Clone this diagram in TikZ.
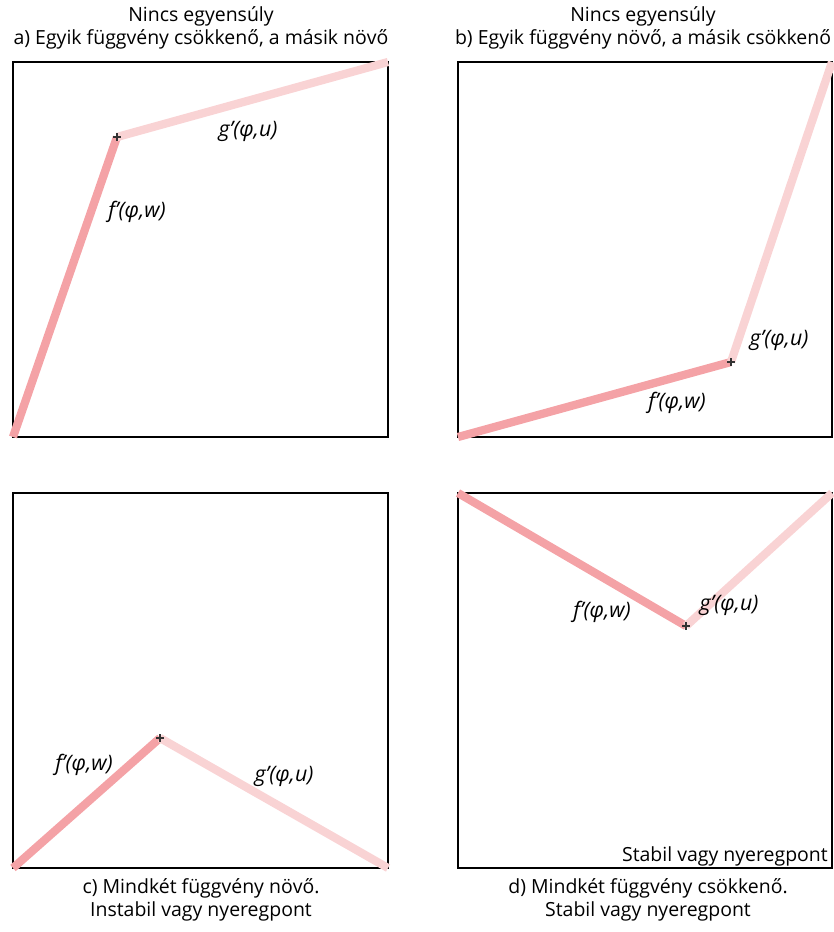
\documentclass[tikz,border=0pt]{standalone}
\usepackage{fontspec}
\setmainfont{Open Sans}
\definecolor{fcol}{HTML}{F4A2A6}
\definecolor{gcol}{HTML}{F9D3D4}
\tikzset{
  frame/.style={draw=black, line width=1.5pt},
  fline/.style={draw=fcol, line width=6.2pt},
  gline/.style={draw=gcol, line width=6.2pt},
  lbl/.style={font=\fontsize{16}{18}\selectfont\itshape},
  captxt/.style={font=\fontsize{14.6}{17.3}\selectfont, align=center}
}
\newcommand{\junction}[1]{\draw[black!80, line width=0.9pt] (#1) ++(-4,0) -- ++(8,0) (#1) ++(0,-4) -- ++(0,8);}
\begin{document}
\begin{tikzpicture}[x=0.75pt,y=-0.75pt,every node/.style={inner sep=0pt}]
\useasboundingbox (0,0) rectangle (834,932);

% a) panel
\draw[frame] (13,62) rectangle (388,437);
\coordinate (a0) at (13,437);
\coordinate (a1) at (117,137);
\coordinate (a2) at (388,62);
\draw[fline] (a0) -- (a1);
\draw[gline] (a1) -- (a2);
\junction{a1}
\node[lbl] (ag) at (248,131) {g’(φ,u)};
\node[lbl] (af) at (137,212) {f’(φ,w)};
\node[captxt] (atitle) at (201,28) {Nincs egyensúly\\a) Egyik függvény csökkenő, a másik növő};

% b) panel
\draw[frame] (458,62) rectangle (832,437);
\coordinate (b0) at (458,437);
\coordinate (b1) at (731,362);
\coordinate (b2) at (832,62);
\draw[fline] (b0) -- (b1);
\draw[gline] (b1) -- (b2);
\junction{b1}
\node[lbl] (bg) at (779,340) {g’(φ,u)};
\node[lbl] (bf) at (677,403) {f’(φ,w)};
\node[captxt] (btitle) at (643,28) {Nincs egyensúly\\b) Egyik függvény növő, a másik csökkenő};

% c) panel
\draw[frame] (13,493) rectangle (388,868);
\coordinate (c0) at (13,868);
\coordinate (c1) at (160,738);
\coordinate (c2) at (388,868);
\draw[fline] (c0) -- (c1);
\draw[gline] (c1) -- (c2);
\junction{c1}
\node[lbl] (cf) at (84,765) {f’(φ,w)};
\node[lbl] (cg) at (284,776) {g’(φ,u)};
\node[captxt] (ctitle) at (201,900) {c) Mindkét függvény növő.\\Instabil vagy nyeregpont};

% d) panel
\draw[frame] (458,493) rectangle (832,868);
\coordinate (d0) at (458,493);
\coordinate (d1) at (686,626);
\coordinate (d2) at (832,493);
\draw[fline] (d0) -- (d1);
\draw[gline] (d1) -- (d2);
\junction{d1}
\node[lbl] (df) at (602,612) {f’(φ,w)};
\node[lbl] (dg) at (729,605) {g’(φ,u)};
\node[captxt, anchor=east] (dnote) at (828,856) {Stabil vagy nyeregpont};
\node[captxt] (dtitle) at (648,900) {d) Mindkét függvény csökkenő.\\Stabil vagy nyeregpont};
\end{tikzpicture}
\end{document}
